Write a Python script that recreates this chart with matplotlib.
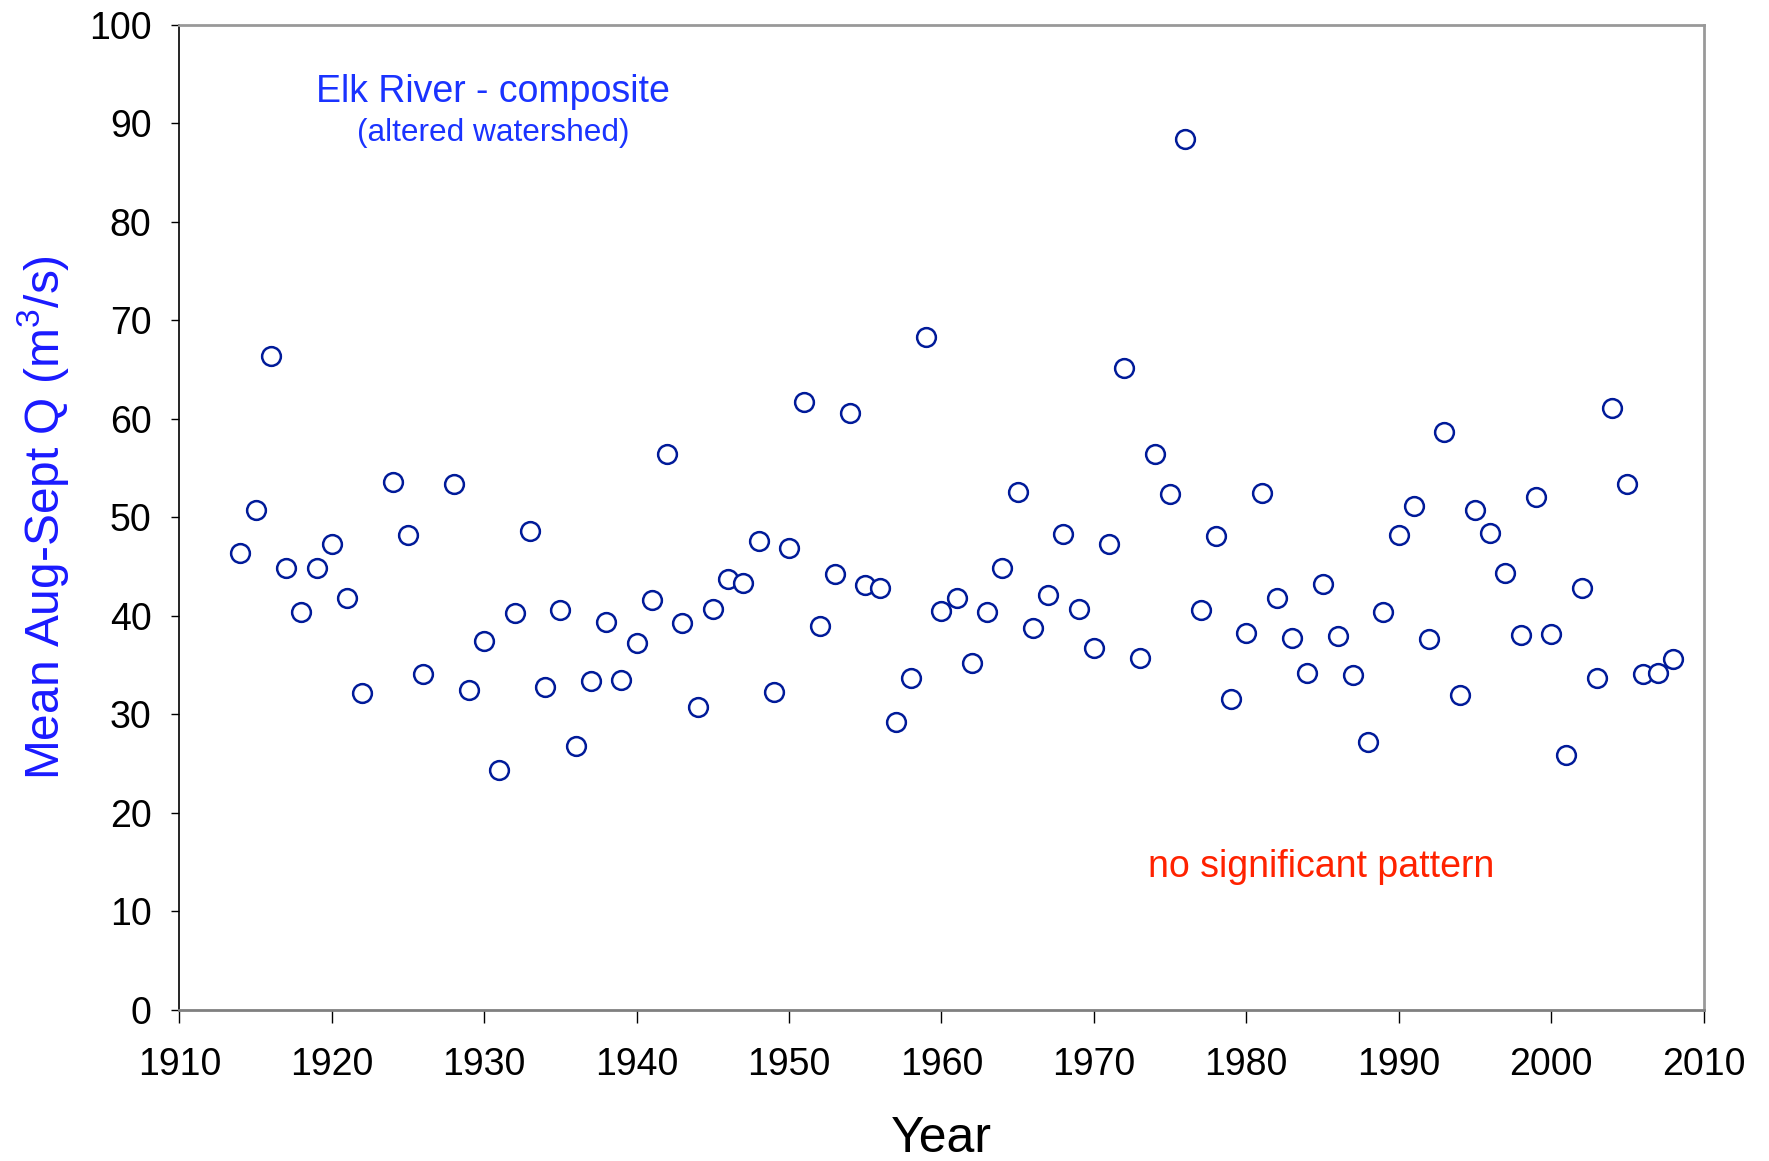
import matplotlib
matplotlib.use("Agg")
import matplotlib.pyplot as plt

years = [1914, 1915, 1916, 1917, 1918, 1919, 1920, 1921, 1922, 1924, 1925, 1926,
         1928, 1929, 1930, 1931, 1932, 1933, 1934, 1935, 1936, 1937, 1938, 1939,
         1940, 1941, 1942, 1943, 1944, 1945, 1946, 1947, 1948, 1949, 1950, 1951,
         1952, 1953, 1954, 1955, 1956, 1957, 1958, 1959, 1960, 1961, 1962, 1963,
         1964, 1965, 1966, 1967, 1968, 1969, 1970, 1971, 1972, 1973, 1974, 1975,
         1976, 1977, 1978, 1979, 1980, 1981, 1982, 1983, 1984, 1985, 1986, 1987,
         1988, 1989, 1990, 1991, 1992, 1993, 1994, 1995, 1996, 1997, 1998, 1999,
         2000, 2001, 2002, 2003, 2004, 2005, 2006, 2007, 2008]
flow = [46.4, 50.7, 66.4, 44.8, 40.4, 44.8, 47.3, 41.8, 32.2, 53.6, 48.2, 34.1,
        53.4, 32.5, 37.4, 24.3, 40.3, 48.6, 32.8, 40.6, 26.8, 33.4, 39.4, 33.5,
        37.2, 41.6, 56.4, 39.3, 30.7, 40.7, 43.7, 43.3, 47.6, 32.3, 46.9, 61.7,
        39.0, 44.2, 60.6, 43.1, 42.8, 29.2, 33.7, 68.3, 40.5, 41.8, 35.2, 40.4,
        44.9, 52.6, 38.8, 42.1, 48.3, 40.7, 36.7, 47.3, 65.2, 35.7, 56.4, 52.4,
        88.4, 40.6, 48.1, 31.6, 38.3, 52.5, 41.8, 37.7, 34.2, 43.2, 37.9, 34.0,
        27.2, 40.4, 48.2, 51.1, 37.6, 58.7, 32.0, 50.7, 48.4, 44.3, 38.0, 52.1,
        38.1, 25.9, 42.8, 33.7, 61.1, 53.4, 34.1, 34.2, 35.6]

x_ticks = list(range(1910, 2011, 10))
y_ticks = list(range(0, 101, 10))

plt.rcParams['font.family'] = ['Liberation Sans', 'DejaVu Sans']
plt.rcParams['mathtext.default'] = 'regular'

fig = plt.figure(figsize=(17.69, 11.61), dpi=100)
ax = fig.add_axes([0.1014, 0.1303, 0.963 - 0.1014, 0.9786 - 0.1303])

ax.plot(years, flow, linestyle='none', marker='o', markersize=13.5,
        markerfacecolor='white', markeredgecolor='#001a99', markeredgewidth=1.8)

ax.set_xlim(1910, 2010)
ax.set_ylim(0, 100)
ax.set_xticks(x_ticks)
ax.set_yticks(y_ticks)
ax.tick_params(axis='x', direction='out', length=9, width=1, pad=18,
               labelsize=27, colors='black')
ax.tick_params(axis='y', direction='out', length=6, width=1, pad=14,
               labelsize=27, colors='black')

for s in ['top', 'right']:
    ax.spines[s].set_color('#999999')
    ax.spines[s].set_linewidth(2)
ax.spines['bottom'].set_color('#808080')
ax.spines['bottom'].set_linewidth(2)
ax.spines['left'].set_color('black')
ax.spines['left'].set_linewidth(1.2)

ax.set_xlabel('Year', fontsize=36, va='center')
ax.xaxis.set_label_coords(0.5, -0.131)
ax.set_ylabel(r'Mean Aug-Sept Q (m$^{3}$/s)', fontsize=34.5, color='#1a1aff',
              va='center')
ax.yaxis.set_label_coords(-0.0895, 0.5)

ax.text(1930.6, 93.2, 'Elk River - composite', fontsize=27, color='#1a33ff',
        ha='center', va='center')
ax.text(1930.6, 89.0, '(altered watershed)', fontsize=22.8, color='#1a33ff',
        ha='center', va='center')
ax.text(1984.9, 14.5, 'no significant pattern', fontsize=27, color='#ff2200',
        ha='center', va='center')

fig.savefig('out.png', dpi=100, facecolor='white')
